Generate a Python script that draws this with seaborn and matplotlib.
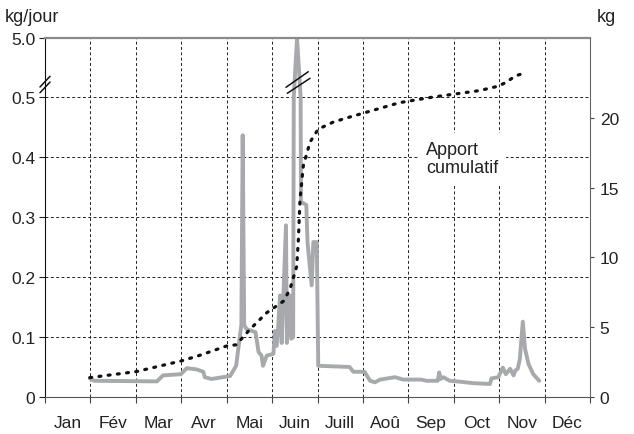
import numpy as np
import pandas as pd
import matplotlib
matplotlib.use("Agg")
import matplotlib.pyplot as plt
import seaborn as sns

# daily intake (kg/jour), x = day of the year
daily_day = [30, 33, 75, 79, 91, 95, 101.5, 106, 107, 111.5, 124, 128, 131.5, 132.4, 133.4,
             135, 141, 143, 145, 146, 148.5, 153, 154, 155, 156, 157.4, 158.5, 161.4, 162,
             164, 165, 166.2, 166.6, 168.8, 171.2, 171.4, 175, 175.8, 178.6, 179.7, 182, 183,
             204, 206.5, 214, 217.7, 221, 224.4, 234.4, 240, 252, 255.4, 263, 264, 265,
             266.8, 271, 278, 287, 298, 299, 303.6, 306.6, 308.6, 311.5, 313.8, 315, 316.6,
             318, 320, 321.5, 323.8, 327, 331]
daily_kg = [0.031, 0.027, 0.026, 0.036, 0.038, 0.048, 0.046, 0.042, 0.033, 0.030, 0.035, 0.052,
            0.12, 0.436, 0.12, 0.113, 0.108, 0.075, 0.069, 0.052, 0.069, 0.072, 0.11, 0.085,
            0.11, 0.169, 0.09, 0.286, 0.09, 0.169, 0.097, 0.10, 0.5, 5.0, 0.5, 0.325, 0.32,
            0.258, 0.186, 0.258, 0.258, 0.052, 0.050, 0.042, 0.042, 0.027, 0.0245, 0.029,
            0.033, 0.029, 0.029, 0.027, 0.027, 0.041, 0.030, 0.033, 0.027, 0.0255, 0.023,
            0.0217, 0.031, 0.033, 0.049, 0.038, 0.047, 0.036, 0.044, 0.047, 0.063, 0.1255,
            0.08, 0.055, 0.038, 0.027]

# cumulative intake (kg)
cumul_day = [30, 61, 91.5, 104, 122, 128, 131, 137, 148.5, 159.6, 164, 168.6, 169.7, 170.8,
             173, 177.5, 183, 193, 202, 237.6, 260, 273.5, 291, 303.6, 309, 314.8, 321.5]
cumul_kg = [1.39, 1.82, 2.59, 3.0, 3.67, 3.74, 4.1, 4.82, 6.04, 6.86, 7.7, 9.37, 11.3, 14.17,
            16.57, 18.27, 19.2, 19.7, 20.0, 21.1, 21.5, 21.7, 21.96, 22.28, 22.56, 23.0, 23.24]

months = ['Jan', 'Fév', 'Mar', 'Avr', 'Mai', 'Juin', 'Juill', 'Aoû', 'Sep', 'Oct', 'Nov', 'Déc']
left_ticks = [0, 0.1, 0.2, 0.3, 0.4, 0.5, 5.0]
left_labels = ['0', '0.1', '0.2', '0.3', '0.4', '0.5', '5.0']
right_ticks = [0, 5, 10, 15, 20]


# broken left axis: everything above 0.5 squeezed into a thin band
def fwd(v):
    v = np.asarray(v, dtype=float)
    return np.where(v <= 0.5, v, 0.5 + (v - 0.5) * 0.098 / 4.5)


def inv(u):
    u = np.asarray(u, dtype=float)
    return np.where(u <= 0.5, u, 0.5 + (u - 0.5) * 4.5 / 0.098)


sns.set_style("ticks")
plt.rcParams['font.family'] = ['Liberation Sans', 'DejaVu Sans']
plt.rcParams['font.size'] = 12.5
txt = '#222222'

df_daily = pd.DataFrame({'jour': daily_day, 'kg': daily_kg})
df_cum = pd.DataFrame({'jour': cumul_day, 'kg': cumul_kg})

fig = plt.figure(figsize=(6.34, 4.35), dpi=100)
ax = fig.add_axes([45 / 634, 37 / 435, 545 / 634, 359 / 435])

sns.lineplot(data=df_daily, x='jour', y='kg', ax=ax, color='#a7a9ac', lw=2.8,
             estimator=None, sort=False)
ax.set_yscale('function', functions=(fwd, inv))
ax.set_ylim(0, 5.0)
ax.set_xlim(0, 365)
ax.set_yticks(left_ticks)
ax.set_yticklabels(left_labels)
ax.set_xticks(np.arange(13) * 365 / 12)
ax.set_xticklabels([])
ax.set_xticks(np.arange(12) * 365 / 12 + 365 / 24, minor=True)
ax.set_xticklabels(months, minor=True)
ax.tick_params(axis='x', which='major', direction='out', length=4, color='#444')
ax.tick_params(axis='x', which='minor', length=0, pad=13, colors=txt)
ax.tick_params(axis='y', direction='out', length=4, pad=3, colors=txt)
ax.tick_params(axis='y', color='#222')
ax.grid(True, which='major', axis='both', color='#222222', lw=0.7, ls=(0, (3, 2.5)))
ax.set_xlabel('')
ax.set_ylabel('')

ax.spines['top'].set_color('#8a8a8a')
ax.spines['top'].set_linewidth(1.6)
ax.spines['left'].set_color('#111111')
ax.spines['bottom'].set_color('#555555')
ax.spines['right'].set_visible(False)

# break marks on the left spine and on the June spike
for dy in (0.0, -0.016):
    ax.plot([-0.0092, 0.0092], [0.8635 + dy, 0.8933 + dy], transform=ax.transAxes,
            clip_on=False, color='#111111', lw=1.1)
ax.plot([0.4422, 0.4831], [0.8627, 0.9061], transform=ax.transAxes, clip_on=False,
        color='#111111', lw=1.1)
ax.plot([0.4446, 0.4862], [0.8460, 0.8877], transform=ax.transAxes, clip_on=False,
        color='#111111', lw=1.1)

ax2 = ax.twinx()
sns.lineplot(data=df_cum, x='jour', y='kg', ax=ax2, color='#111111', lw=2.3,
             linestyle=(0, (0.6, 2.3)), dash_capstyle='round', estimator=None, sort=False)
ax2.set_ylim(0, 25.73)
ax2.set_yticks(right_ticks)
ax2.tick_params(axis='y', direction='out', length=3, pad=4, colors=txt)
ax2.tick_params(axis='y', color='#444')
ax2.set_xlabel('')
ax2.set_ylabel('')
for s in ('top', 'left', 'bottom'):
    ax2.spines[s].set_visible(False)
ax2.spines['right'].set_color('#666666')

ax2.text(0.699, 0.712, 'Apport\ncumulatif', transform=ax2.transAxes, ha='left', va='top',
         color=txt, fontsize=13, linespacing=1.05,
         bbox=dict(boxstyle='square,pad=0.45', fc='white', ec='none'))

fig.text(5 / 634, 1 - 18 / 435, 'kg/jour', ha='left', va='center', color=txt, fontsize=13)
fig.text(597 / 634, 1 - 18 / 435, 'kg', ha='left', va='center', color=txt, fontsize=13)

fig.savefig('out.png', dpi=100)
